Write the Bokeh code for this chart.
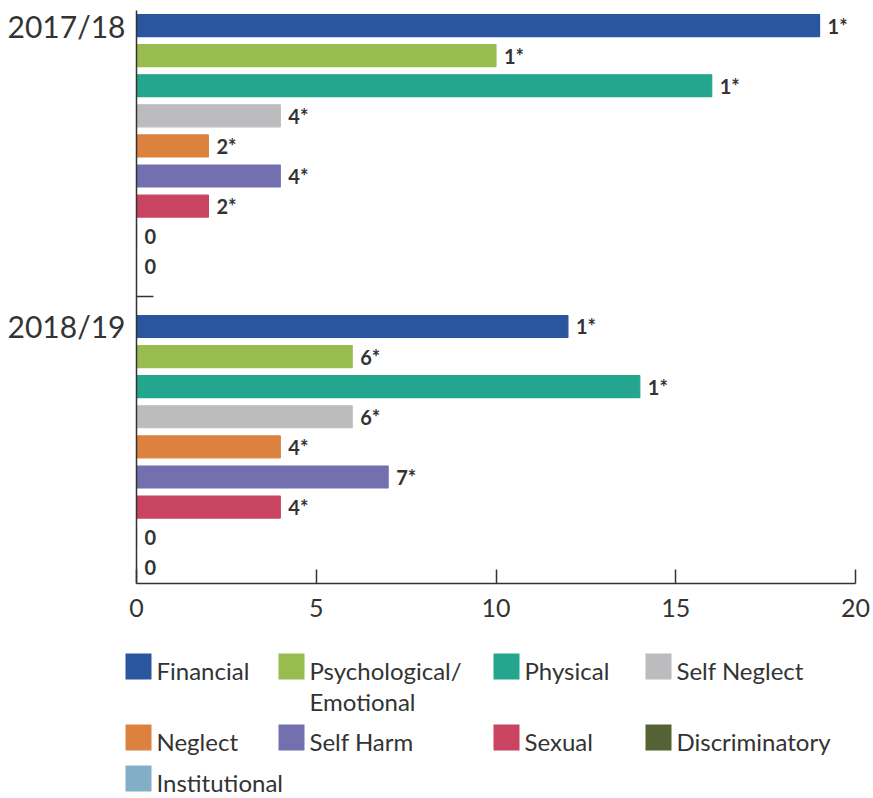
from bokeh.plotting import figure
from bokeh.layouts import column
from bokeh.models import Range1d, FixedTicker, ColumnDataSource
from bokeh.core.properties import value
from bokeh.embed import file_html
from bokeh.resources import INLINE

# ---- data ----
categories = ["Financial", "Psychological/ Emotional", "Physical", "Self Neglect",
              "Neglect", "Self Harm", "Sexual", "Discriminatory", "Institutional"]
legend_labels = ["Financial", "Psychological/\nEmotional", "Physical", "Self Neglect",
                 "Neglect", "Self Harm", "Sexual", "Discriminatory", "Institutional"]
colors = ["#2a56a0", "#98bc50", "#24a58e", "#bcbcbe",
          "#dc823e", "#7470b0", "#c84460", "#556233", "#82aec8"]
years = ["2017/18", "2018/19"]
values_1718 = [19, 10, 16, 4, 2, 4, 2, 0, 0]
values_1819 = [12, 6, 14, 6, 4, 7, 4, 0, 0]
labels_1718 = ["1*", "1*", "1*", "4*", "2*", "4*", "2*", "0", "0"]
labels_1819 = ["1*", "6*", "1*", "6*", "4*", "7*", "4*", "0", "0"]
x_ticks = [0, 5, 10, 15, 20]

FONT = "Lato"
TXT = "#333333"

slots = len(categories) + 1  # one empty slot between the year groups
ys, vals, labs, cols = [], [], [], []
for g, (v, l) in enumerate([(values_1718, labels_1718), (values_1819, labels_1819)]):
    for i in range(len(categories)):
        ys.append(g * slots + i)
        vals.append(v[i])
        labs.append(l[i])
        cols.append(colors[i])
src = ColumnDataSource(dict(y=ys, v=vals, lab=labs, c=cols))

W = 873
p = figure(width=W, height=640, output_backend="svg", toolbar_location=None,
           x_range=Range1d(0, 20), y_range=Range1d(18.54, -0.5),
           min_border_left=136, min_border_right=18, min_border_top=10, min_border_bottom=57)
p.frame_align = False
p.hbar(y="y", left=0, right="v", height=0.73, fill_color="c", line_color="c",
       line_width=1.2, source=src)
p.text(x="v", y="y", text="lab", source=src, x_offset=8, text_baseline="middle",
       text_align="left", text_font=value(FONT), text_font_style="bold",
       text_font_size="20px", text_color=TXT)
# small separator tick between year groups
p.segment(x0=[0], y0=[slots - 1], x1=[0.47], y1=[slots - 1], line_color=TXT, line_width=1.5)

p.xgrid.visible = False
p.ygrid.visible = False
p.outline_line_color = None

xa = p.xaxis[0]
xa.ticker = FixedTicker(ticks=x_ticks)
xa.major_tick_in = 14
xa.major_tick_out = 0
xa.minor_tick_line_color = None
xa.axis_line_color = TXT
xa.axis_line_width = 1.5
xa.major_tick_line_color = TXT
xa.major_tick_line_width = 1.5
xa.major_label_text_font = FONT
xa.major_label_text_font_size = "25px"
xa.major_label_text_color = TXT
xa.major_label_standoff = 15

ya = p.yaxis[0]
ya.ticker = FixedTicker(ticks=[0, slots])
ya.major_label_overrides = {0: years[0], slots: years[1]}
ya.major_tick_in = 0
ya.major_tick_out = 0
ya.minor_tick_line_color = None
ya.axis_line_color = TXT
ya.axis_line_width = 1.5
ya.major_label_text_font = FONT
ya.major_label_text_font_size = "30px"
ya.major_label_text_color = TXT
ya.major_label_standoff = 11

# ---- legend (separate strip, pixel coordinates) ----
LH = 157
leg_col_x = [125, 278, 493, 645]
leg_row_y = [13, 84, 125]
sw = 26
gap = 31
lx, ly, tx, ty = [], [], [], []
for i in range(len(categories)):
    r, c = divmod(i, 4)
    lx.append(leg_col_x[c] + sw / 2)
    ly.append(leg_row_y[r] + sw / 2)
    tx.append(leg_col_x[c] + gap)
    ty.append(leg_row_y[r] + 2)
lsrc = ColumnDataSource(dict(x=lx, y=ly, tx=tx, ty=ty, c=colors, t=legend_labels))

lg = figure(width=W, height=LH, output_backend="svg", toolbar_location=None,
            x_range=Range1d(0, W), y_range=Range1d(LH, 0),
            x_axis_type=None, y_axis_type=None, min_border=0)
lg.frame_align = False
lg.outline_line_color = None
lg.xgrid.visible = False
lg.ygrid.visible = False
lg.rect(x="x", y="y", width=sw, height=sw, fill_color="c", line_color=None, source=lsrc)
lg.text(x="tx", y="ty", text="t", source=lsrc, text_baseline="top",
        text_align="left", text_font=value(FONT), text_font_size="24px",
        text_color=TXT, text_line_height=1.08)

layout = column(p, lg, spacing=0)
open("out.html", "w").write(file_html(layout, INLINE))
